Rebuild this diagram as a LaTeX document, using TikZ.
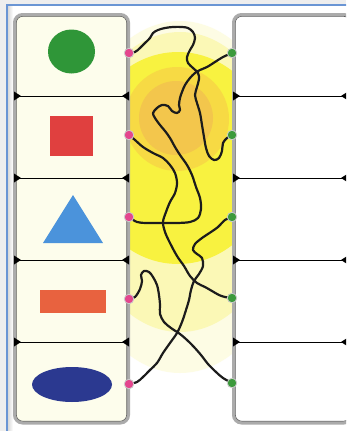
\documentclass[tikz,border=0pt]{standalone}
\usetikzlibrary{shapes.geometric}
\definecolor{framebg}{HTML}{EEEEEE}
\definecolor{frameblue}{HTML}{6A95D4}
\definecolor{cream}{HTML}{FDFDEC}
\definecolor{boxgray}{HTML}{ABABAB}
\definecolor{boxdark}{HTML}{5A5A5A}
\definecolor{glowA}{HTML}{FDFCE4}
\definecolor{glowB}{HTML}{FBF8B6}
\definecolor{glowC}{HTML}{F8F240}
\definecolor{glowD}{HTML}{F7DA44}
\definecolor{glowE}{HTML}{F3C64C}
\definecolor{shgreen}{HTML}{2F9638}
\definecolor{shred}{HTML}{E0403F}
\definecolor{shblue}{HTML}{4B93DB}
\definecolor{shorange}{HTML}{E8623F}
\definecolor{shnavy}{HTML}{2B3990}
\definecolor{dotpink}{HTML}{E4468E}
\definecolor{dotgreen}{HTML}{3C9A3C}
\definecolor{wirecol}{HTML}{1C1C1C}
\begin{document}
\begin{tikzpicture}[x=1pt,y=-1pt,
  boxframe/.style={draw=boxgray,line width=3pt,rounded corners=8pt},
  boxinner/.style={draw=boxdark,line width=0.6pt,rounded corners=6.5pt},
  sepline/.style={draw=black,line width=1pt},
  wedgefill/.style={fill=black},
  wire/.style={draw=wirecol,line width=2.2pt,line join=round,line cap=round},
  pinkdot/.style={circle,fill=dotpink,draw=gray!40,line width=0.8pt,minimum size=9.5pt,inner sep=0pt},
  greendot/.style={circle,fill=dotgreen,draw=gray!40,line width=0.8pt,minimum size=9.5pt,inner sep=0pt},
  shapenode/.style={inner sep=0pt,draw=none}]
\useasboundingbox (0,0) rectangle (346,431);
\clip (0,0) rectangle (346,431);
% page frame
\fill[framebg] (0,0) rectangle (346,431);
\fill[white] (7,5) rectangle (350,435);
\shade[left color=gray!35,right color=white] (7,5) rectangle (13,435);
\draw[frameblue,line width=1.3pt] (7,435) -- (7,5) -- (350,5);
% glow in the middle strip
\begin{scope}
  \clip (130,13) rectangle (233,424);
  \fill[glowA] (180,197) ellipse [x radius=115pt, y radius=176pt];
  \fill[glowB] (180,182) ellipse [x radius=105pt, y radius=150pt];
  \fill[glowC] (178,158) ellipse [x radius=95pt, y radius=106pt];
  \fill[glowD] (177,119) circle [radius=52pt];
  \fill[glowE] (176,118) circle [radius=37pt];
\end{scope}
% left and right boxes
\draw[boxframe,fill=cream] (14.5,14.5) rectangle (128.5,423);
\draw[boxinner] (16.3,16.3) rectangle (126.7,421.2);
\draw[boxframe,fill=white] (233.5,14.5) rectangle (352,423);
\draw[boxinner] (235.3,16.3) rectangle (350,421.2);
% separators
\foreach \yy in {96,178,260,342}{
  \draw[sepline] (16,\yy) -- (127,\yy);
  \fill[wedgefill] (14,\yy-4.5) -- (21,\yy) -- (14,\yy+4.5) -- cycle;
  \fill[wedgefill] (129,\yy-4.5) -- (122,\yy) -- (129,\yy+4.5) -- cycle;
  \draw[sepline] (235,\yy) -- (346,\yy);
  \fill[wedgefill] (233,\yy-4.5) -- (240,\yy) -- (233,\yy+4.5) -- cycle;
  \fill[wedgefill] (348,\yy-4.5) -- (341,\yy) -- (348,\yy+4.5) -- cycle;
}
% shapes
\node[shapenode,ellipse,fill=shgreen,minimum width=47pt,minimum height=44pt] (circ) at (71.5,51.5) {};
\node[shapenode,rectangle,fill=shred,minimum width=43pt,minimum height=40pt] (sq) at (71.5,136) {};
\fill[shblue] (73,195) -- (103,243) -- (43,243) -- cycle;
\node[shapenode,rectangle,fill=shorange,minimum width=66pt,minimum height=23pt] (rect) at (73,301.5) {};
\node[shapenode,ellipse,fill=shnavy,minimum width=80pt,minimum height=35pt] (ell) at (72,384.5) {};
% dot positions
\coordinate (L1) at (129,53);
\coordinate (L2) at (129,135);
\coordinate (L3) at (129,217);
\coordinate (L4) at (129,299);
\coordinate (L5) at (129,384);
\coordinate (R1) at (232,53);
\coordinate (R2) at (232,135);
\coordinate (R3) at (232,217);
\coordinate (R4) at (232,298);
\coordinate (R5) at (232,383);
% wires
\draw[wire] plot[smooth,tension=0.55] coordinates {(L1) (135,52) (140,48) (145,43) (150,38) (153,33) (158,30) (165,28) (173,27) (182,27) (188,28) (193,32) (195,38) (193,45) (190,50) (187,57) (188,63) (193,68) (198,73) (199,79) (197,87) (195,95) (197,103) (200,113) (202,125) (204,137) (206,148) (209,156) (214,160) (219,158) (222,151) (223,143) (227,138) (R2)};
\draw[wire] plot[smooth,tension=0.55] coordinates {(R1) (223,57) (215,62) (207,67) (200,70) (195,73) (190,78) (185,85) (182,92) (180,98) (179,105) (180,110) (177,113) (172,111) (168,106) (162,105) (157,108) (153,113) (155,118) (160,125) (165,131) (170,138) (175,147) (180,155) (187,165) (192,175) (196,187) (200,198) (201,209) (198,218) (190,222) (177,223) (163,223) (147,223) (137,222) (L3)};
\draw[wire] plot[smooth,tension=0.55] coordinates {(L2) (135,140) (143,147) (153,153) (163,158) (170,165) (175,173) (177,183) (175,193) (170,202) (166,212) (163,222) (165,232) (170,243) (177,256) (184,266) (190,276) (197,283) (205,287) (212,291) (219,295) (225,297) (R4)};
\draw[wire] plot[smooth,tension=0.55] coordinates {(R3) (225,220) (218,227) (211,232) (202,238) (195,244) (193,250) (197,254) (202,258) (203,266) (199,274) (194,281) (191,290) (189,300) (186,310) (182,322) (177,333) (170,343) (163,353) (157,363) (150,370) (143,377) (137,382) (L5)};
\draw[wire] plot[smooth,tension=0.55] coordinates {(L4) (135,297) (140,289) (142,281) (141,275) (144,271) (149,272) (153,277) (157,285) (159,295) (160,305) (160,314) (164,322) (171,328) (180,334) (187,340) (194,347) (201,355) (208,364) (216,372) (223,378) (R5)};
% dots
\foreach \n in {1,...,5}{
  \node[pinkdot] (pd\n) at (L\n) {};
  \node[greendot] (gd\n) at (R\n) {};
}
\end{tikzpicture}
\end{document}
